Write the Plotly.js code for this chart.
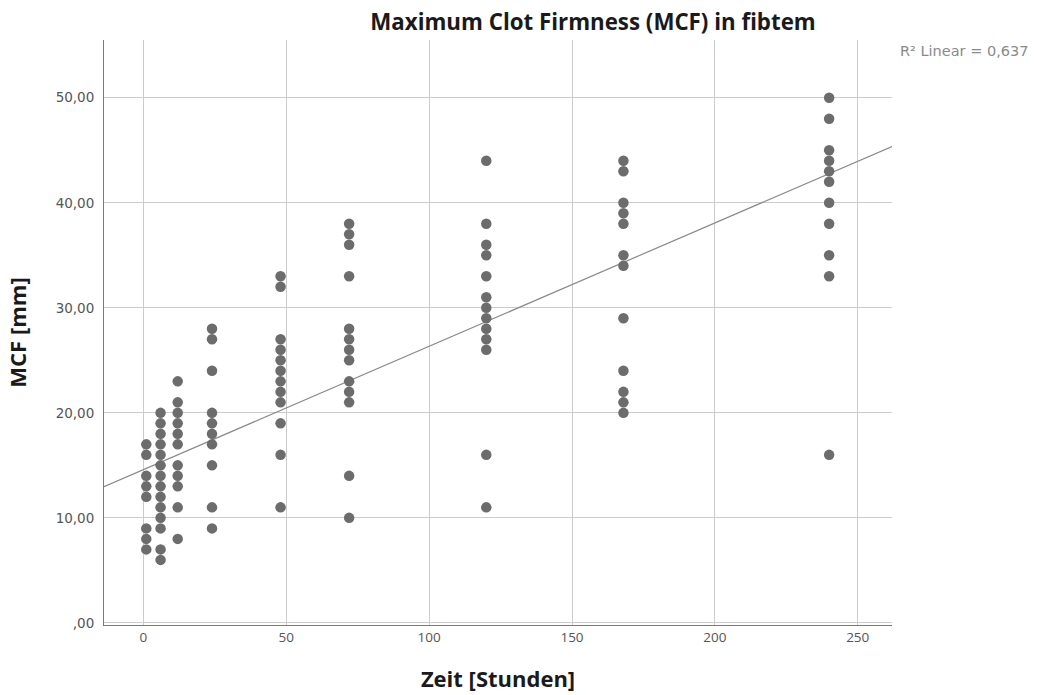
<!DOCTYPE html>
<html>
<head>
<meta charset="utf-8">
<script src="https://cdn.plot.ly/plotly-3.0.1.min.js"></script>
<style>html,body{margin:0;padding:0;background:#fff;}#chart{width:1037px;height:695px;}</style>
</head>
<body>
<div id="chart"></div>
<script>
// Time points (hours) and MCF values (mm)
const t1 = 1,   mcf1 = [17,16,14,13,12,9,8,7];
const t6 = 6,   mcf6 = [20,19,18,17,16,15,14,13,12,11,10,9,7,6];
const t12 = 12, mcf12 = [23,21,20,19,18,17,15,14,13,11,8];
const t24 = 24, mcf24 = [28,27,24,20,19,18,17,15,11,9];
const t48 = 48, mcf48 = [33,32,27,26,25,24,23,22,21,19,16,11];
const t72 = 72, mcf72 = [38,37,36,33,28,27,26,25,23,22,21,14,10];
const t120 = 120, mcf120 = [44,38,36,35,33,31,30,29,28,27,26,16,11];
const t168 = 168, mcf168 = [44,43,40,39,38,35,34,29,24,22,21,20];
const t240 = 240, mcf240 = [50,48,45,44,43,42,40,38,35,33,16];

// Linear fit line as drawn in the chart
const fitIntercept = 14.6;
const fitSlope = 0.1174;

const yTickVals = [0,10,20,30,40,50];
const yTickText = [",00","10,00","20,00","30,00","40,00","50,00"];
const xTickVals = [0,50,100,150,200,250];
const r2Label = "R² Linear = 0,637";

const groups = [[t1,mcf1],[t6,mcf6],[t12,mcf12],[t24,mcf24],[t48,mcf48],[t72,mcf72],[t120,mcf120],[t168,mcf168],[t240,mcf240]];
const xs = [], ys = [];
groups.forEach(([t, vals]) => vals.forEach(v => { xs.push(t); ys.push(v); }));

const xRange = [-13.8, 262];
const fitX = [xRange[0], xRange[1]];
const fitY = fitX.map(x => fitIntercept + fitSlope*x);

const traces = [
  {x: fitX, y: fitY, mode: 'lines', line: {color: '#8a8a8a', width: 1.2}, hoverinfo: 'skip', showlegend: false},
  {x: xs, y: ys, mode: 'markers', marker: {color: '#6c6c6c', size: 10.5, line: {width: 0}}, showlegend: false}
];

const layout = {
  width: 1037, height: 695,
  margin: {l: 104, r: 145, t: 40, b: 70},
  paper_bgcolor: '#ffffff', plot_bgcolor: '#ffffff',
  font: {family: 'DejaVu Sans, sans-serif', color: '#555'},
  title: {text: '<b>Maximum Clot Firmness (MCF) in fibtem</b>', x: 593/1037, xanchor: 'center', xref: 'container', y: 1-22/695, yanchor: 'middle', yref: 'container',
          font: {family: 'Open Sans, sans-serif', size: 22.3, color: '#1a1a1a'}},
  xaxis: {
    range: xRange, tickvals: xTickVals, ticktext: xTickVals.map(String),
    showgrid: true, gridcolor: '#cccccc', gridwidth: 1, zeroline: false,
    showline: true, linecolor: '#7a7a7a', linewidth: 1, ticks: '',
    tickfont: {family: 'Open Sans, sans-serif', size: 13.5, color: '#555'},
    title: {text: '<b>Zeit [Stunden]</b>', standoff: 26, font: {family: 'Open Sans, sans-serif', size: 22, color: '#1a1a1a'}}
  },
  yaxis: {
    range: [-0.2, 55.5], tickvals: yTickVals, ticktext: yTickText,
    showgrid: true, gridcolor: '#cccccc', gridwidth: 1, zeroline: false,
    showline: true, linecolor: '#7a7a7a', linewidth: 1, ticks: '',
    ticklabelstandoff: 6,
    tickfont: {family: 'DejaVu Sans, sans-serif', size: 13.5, color: '#555'},
    title: {text: '<b>MCF [mm]</b>', standoff: 22, font: {family: 'Open Sans, sans-serif', size: 22, color: '#1a1a1a'}}
  },
  annotations: [{
    text: r2Label, xref: 'paper', yref: 'paper', x: 1 + 6/788, y: 1 - 11/585,
    xanchor: 'left', yanchor: 'middle', showarrow: false,
    font: {family: 'DejaVu Sans, sans-serif', size: 14.5, color: '#8a8a8a'}
  }]
};

Plotly.newPlot('chart', traces, layout, {displayModeBar: false, staticPlot: true});
</script>
</body>
</html>
